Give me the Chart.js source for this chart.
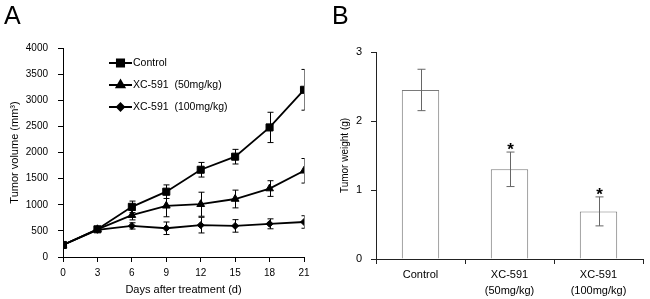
<!DOCTYPE html>
<html lang="en">
<head>
  <meta charset="UTF-8" />
  <title>Tumor volume and weight</title>
  <script src="https://cdn.jsdelivr.net/npm/chart.js"></script>
  <style>
    body {
      margin: 0;
      width: 650px;
      height: 299px;
      position: relative;
      overflow: hidden;
      background: #fff;
      font-family: Arial, "Liberation Sans", sans-serif;
    }
    canvas {
      position: absolute;
      top: 0;
    }
    .tag {
      position: absolute;
      top: 1px;
      font-size: 25px;
      line-height: 1.15;
      color: #000;
    }
  </style>
</head>
<body>

  <canvas id="volumeChart" width="330" height="299" style="left:0"></canvas>
  <canvas id="weightChart" width="320" height="299" style="left:330px"></canvas>
  <div class="tag" style="left:4px">A</div>
  <div class="tag" style="left:332px">B</div>

  <script>
    // panel A - tumor volume over time
    const days = [0, 3, 6, 9, 12, 15, 18, 21];
    const controlVol = [230, 530, 960, 1250, 1670, 1920, 2480, 3200];
    const controlErr = [0, 20, 110, 130, 140, 140, 290, 390];
    const lowDoseVol = [230, 530, 800, 980, 1010, 1110, 1310, 1650];
    const lowDoseErr = [0, 20, 90, 210, 230, 170, 150, 235];
    const highDoseVol = [230, 520, 595, 550, 610, 595, 635, 670];
    const highDoseErr = [0, 20, 60, 120, 150, 120, 95, 120];
    const seriesNames = ['Control', 'XC-591  (50mg/kg)', 'XC-591  (100mg/kg)'];

    // panel B - tumor weight at the end
    const groups = ['Control', ['XC-591', '(50mg/kg)'], ['XC-591', '(100mg/kg)']];
    const weights = [2.45, 1.30, 0.69];
    const weightErr = [0.30, 0.25, 0.21];
    const sigMarks = ['', '*', '*'];

    const FONT = 'Arial, "Liberation Sans", sans-serif';
    const toPoints = vals => vals.map((v, i) => ({ x: days[i], y: v }));

    // error bars (and the asterisks for panel B) drawn from the scales
    const errorBars = {
      id: 'errorBars',
      afterDatasetsDraw(chart, args, opts) {
        const ctx = chart.ctx;
        const yScale = chart.scales.y;
        const area = chart.chartArea;
        ctx.save();
        ctx.beginPath();
        ctx.rect(area.left - 10, 0, area.right - area.left + 10.5, chart.height);
        ctx.clip();
        chart.data.datasets.forEach((ds, di) => {
          if (!ds.errors) return;
          const meta = chart.getDatasetMeta(di);
          meta.data.forEach((el, i) => {
            const err = ds.errors[i];
            const v = ds.data[i].y !== undefined ? ds.data[i].y : ds.data[i];
            if (!err) return;
            const x = Math.round(el.x) + 0.5;
            const top = yScale.getPixelForValue(v + err);
            const bot = yScale.getPixelForValue(v - err);
            const cap = opts.cap;
            ctx.strokeStyle = opts.color;
            ctx.lineWidth = 1;
            ctx.beginPath();
            ctx.moveTo(x, top); ctx.lineTo(x, bot);
            ctx.moveTo(x - cap, top); ctx.lineTo(x + cap, top);
            ctx.moveTo(x - cap, bot); ctx.lineTo(x + cap, bot);
            ctx.stroke();
            if (ds.marks && ds.marks[i]) {
              ctx.fillStyle = '#000';
              ctx.font = 'bold 17px ' + FONT;
              ctx.textAlign = 'center';
              ctx.textBaseline = 'alphabetic';
              ctx.fillText(ds.marks[i], x, top + 3);
            }
          });
        });
        ctx.restore();
      }
    };

    // legend with a short line through the marker, like the original figure
    const lineLegend = {
      id: 'lineLegend',
      afterDraw(chart, args, opts) {
        const ctx = chart.ctx;
        ctx.save();
        chart.data.datasets.forEach((ds, i) => {
          const y = opts.y + i * opts.gap;
          ctx.strokeStyle = '#000';
          ctx.lineWidth = 2;
          ctx.beginPath();
          ctx.moveTo(opts.x, y);
          ctx.lineTo(opts.x + 23, y);
          ctx.stroke();
          if (Chart.helpers && Chart.helpers.drawPoint) {
            Chart.helpers.drawPoint(ctx, {
              pointStyle: ds.pointStyle, radius: ds.pointRadius,
              borderWidth: 1, rotation: 0
            }, opts.x + 11.5, y);
            ctx.fillStyle = '#000';
            ctx.fill();
          }
          ctx.fillStyle = '#000';
          ctx.font = '10.5px ' + FONT;
          ctx.textAlign = 'left';
          ctx.textBaseline = 'middle';
          ctx.fillText(ds.label, opts.x + 24, y + 0.5);
        });
        ctx.restore();
      }
    };

    new Chart(document.getElementById('volumeChart'), {
      type: 'line',
      data: {
        datasets: [
          { label: seriesNames[0], data: toPoints(controlVol), errors: controlErr, pointStyle: 'rect', pointRadius: 5 },
          { label: seriesNames[1], data: toPoints(lowDoseVol), errors: lowDoseErr, pointStyle: 'triangle', pointRadius: 4.5 },
          { label: seriesNames[2], data: toPoints(highDoseVol), errors: highDoseErr, pointStyle: 'rectRot', pointRadius: 3.5 }
        ].map(ds => Object.assign(ds, {
          borderColor: '#000',
          backgroundColor: '#000',
          pointBackgroundColor: '#000',
          pointBorderColor: '#000',
          borderWidth: 1.8,
          pointBorderWidth: 1,
          tension: 0
        }))
      },
      options: {
        responsive: false,
        animation: false,
        layout: { padding: { top: 48, right: 26, bottom: 0, left: 0 } },
        plugins: {
          legend: { display: false },
          tooltip: { enabled: false },
          errorBars: { color: '#000', cap: 3 },
          lineLegend: { x: 109, y: 63, gap: 22 }
        },
        scales: {
          x: {
            type: 'linear',
            min: 0,
            max: 21,
            afterFit: s => { s.height = 42; },
            ticks: { stepSize: 3, padding: 5, color: '#000', font: { family: FONT, size: 10 } },
            grid: { drawOnChartArea: false, drawTicks: true, tickLength: 5, color: '#000' },
            border: { color: '#000', width: 1 },
            title: { display: true, text: 'Days after treatment (d)', color: '#000', padding: { top: 0, bottom: 2 }, font: { family: FONT, size: 11 } }
          },
          y: {
            min: 0,
            max: 4000,
            afterFit: s => { s.width = 63; },
            ticks: {
              stepSize: 500, padding: 10, color: '#000', font: { family: FONT, size: 10 },
              callback: value => String(value)
            },
            grid: { drawOnChartArea: false, drawTicks: true, tickLength: 5, color: '#000' },
            border: { color: '#000', width: 1 },
            title: { display: true, text: 'Tumor volume (mm³)', color: '#000', padding: { top: 8, bottom: 0 }, font: { family: FONT, size: 11 } }
          }
        }
      },
      plugins: [errorBars, lineLegend]
    });

    new Chart(document.getElementById('weightChart'), {
      type: 'bar',
      data: {
        labels: groups,
        datasets: [{
          data: weights,
          errors: weightErr,
          marks: sigMarks,
          backgroundColor: '#fff',
          borderColor: '#7a7a7a',
          borderWidth: 1,
          barPercentage: 0.42,
          categoryPercentage: 1
        }]
      },
      options: {
        responsive: false,
        animation: false,
        layout: { padding: { top: 52, right: 7, bottom: 0, left: 0 } },
        plugins: {
          legend: { display: false },
          tooltip: { enabled: false },
          errorBars: { color: '#666', cap: 4 }
        },
        scales: {
          x: {
            afterFit: s => { s.height = 40; },
            ticks: { padding: 3, color: '#000', font: { family: FONT, size: 11, lineHeight: 1.45 } },
            grid: { drawOnChartArea: false, drawTicks: true, tickLength: 5, color: '#222', offset: true },
            border: { color: '#222', width: 1 }
          },
          y: {
            min: 0,
            max: 3,
            afterFit: s => { s.width = 46; },
            ticks: { stepSize: 1, padding: 9, color: '#000', font: { family: FONT, size: 11 } },
            grid: { drawOnChartArea: false, drawTicks: true, tickLength: 5, color: '#222' },
            border: { color: '#222', width: 1 },
            title: { display: true, text: 'Tumor weight (g)', color: '#000', padding: { top: 9, bottom: 0 }, font: { family: FONT, size: 10 } }
          }
        }
      },
      plugins: [errorBars]
    });
  </script>

</body>
</html>
